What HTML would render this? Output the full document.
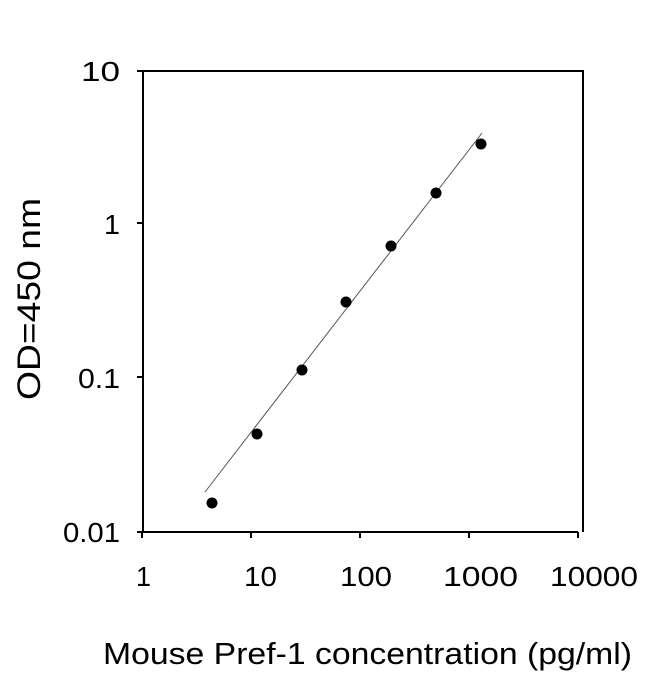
<!DOCTYPE html>
<html><head><style>body{margin:0;background:#fff}</style></head><body>
<svg width="650" height="674" xmlns="http://www.w3.org/2000/svg" font-family="Liberation Sans, Arial, sans-serif" fill="#000">
<rect width="650" height="674" fill="#fff"/>
<g stroke="#000" stroke-width="2" fill="none">
<line x1="143" y1="71" x2="143" y2="532"/>
<line x1="137" y1="71" x2="584" y2="71"/>
<line x1="583" y1="71" x2="583" y2="532"/>
<line x1="137" y1="532" x2="578" y2="532"/>
<line x1="137" y1="223" x2="143" y2="223"/>
<line x1="137" y1="377" x2="143" y2="377"/>
<line x1="142" y1="532" x2="142" y2="538"/>
<line x1="251" y1="532" x2="251" y2="538"/>
<line x1="360" y1="532" x2="360" y2="538"/>
<line x1="469" y1="532" x2="469" y2="538"/>
<line x1="578" y1="532" x2="578" y2="538"/>
</g>
<line x1="205" y1="492" x2="482" y2="133" stroke="#555" stroke-width="1"/>
<g>
<circle cx="212" cy="503" r="5.5"/><circle cx="257" cy="434" r="5.5"/><circle cx="302" cy="370" r="5.5"/>
<circle cx="346" cy="302" r="5.5"/><circle cx="391" cy="246" r="5.5"/><circle cx="436" cy="193" r="5.5"/>
<circle cx="481" cy="144" r="5.5"/>
</g>
<g font-size="28">
<text x="81" y="81" textLength="39" lengthAdjust="spacingAndGlyphs">10</text>
<text x="104" y="234" textLength="16" lengthAdjust="spacingAndGlyphs">1</text>
<text x="78" y="388" textLength="42" lengthAdjust="spacingAndGlyphs">0.1</text>
<text x="63" y="542" textLength="57" lengthAdjust="spacingAndGlyphs">0.01</text>
</g>
<g font-size="28">
<text x="136" y="586" textLength="15" lengthAdjust="spacingAndGlyphs">1</text>
<text x="244" y="586" textLength="33" lengthAdjust="spacingAndGlyphs">10</text>
<text x="340" y="586" textLength="52" lengthAdjust="spacingAndGlyphs">100</text>
<text x="443" y="586" textLength="75" lengthAdjust="spacingAndGlyphs">1000</text>
<text x="550" y="586" textLength="88" lengthAdjust="spacingAndGlyphs">10000</text>
</g>
<text x="103" y="664" font-size="31" textLength="529" lengthAdjust="spacingAndGlyphs">Mouse Pref-1 concentration (pg/ml)</text>
<text transform="translate(40,400) rotate(-90)" font-size="32" textLength="202" lengthAdjust="spacingAndGlyphs">OD=450 nm</text>
</svg>
</body></html>
